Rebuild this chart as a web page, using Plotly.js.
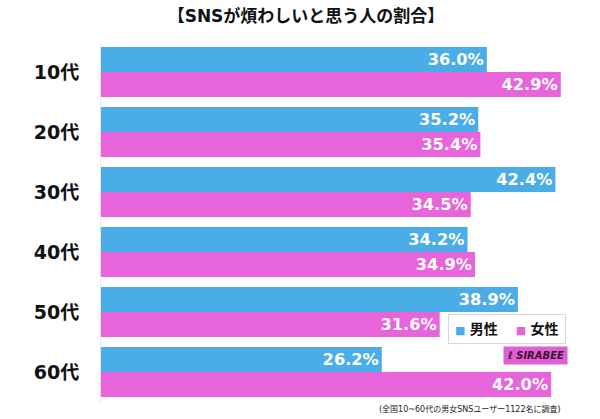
<!DOCTYPE html>
<html>
<head>
<meta charset="utf-8">
<script src="https://cdn.plot.ly/plotly-3.0.1.min.js"></script>
<style>body{margin:0;background:#fff;} #chart{width:600px;height:419px;}</style>
</head>
<body>
<div id="chart"></div>
<script>
const categories = ["10代", "20代", "30代", "40代", "50代", "60代"];
const maleValues = [36.0, 35.2, 42.4, 34.2, 38.9, 26.2];
const femaleValues = [42.9, 35.4, 34.5, 34.9, 31.6, 42.0];
const seriesNames = ["男性", "女性"];
const titleText = "【SNSが煩わしいと思う人の割合】";
const footerText = "(全国10~60代の男女SNSユーザー1122名に調査)";

const FONT = "DejaVu Sans, Noto Sans CJK JP, sans-serif";
const BLUE = "#4aade8";
const PINK = "#e764da";
const colors = [BLUE, PINK];

function makeTrace(vals, name, color) {
  return {
    type: "bar",
    orientation: "h",
    y: categories,
    x: vals,
    name: name,
    marker: {color: color},
    text: vals.map(v => v.toFixed(1) + "%"),
    textposition: "inside",
    insidetextanchor: "end",
    textfont: {family: FONT, size: 18, color: "#ffffff", weight: "bold"},
    hoverinfo: "skip"
  };
}

const data = [
  makeTrace(maleValues, seriesNames[0], BLUE),
  makeTrace(femaleValues, seriesNames[1], PINK)
];

const legendText = seriesNames.map((n, i) =>
  "<span style='color:" + colors[i] + ";font-size:11px'>■</span> <b>" + n + "</b>").join("    ");

const layout = {
  width: 600,
  height: 419,
  margin: {l: 101, r: 6, t: 42, b: 17},
  paper_bgcolor: "#ffffff",
  plot_bgcolor: "#ffffff",
  barmode: "group",
  bargap: 0.17,
  bargroupgap: 0,
  showlegend: false,
  title: {
    text: "<b>" + titleText + "</b>",
    font: {family: FONT, size: 17, color: "#111"},
    x: 0.51, xref: "container", xanchor: "center",
    y: 0.962, yref: "container", yanchor: "middle"
  },
  xaxis: {
    range: [0, 46],
    showgrid: false, zeroline: false, showticklabels: false, showline: false, ticks: ""
  },
  yaxis: {
    autorange: "reversed",
    showgrid: false, zeroline: false,
    showline: true, linecolor: "#e6e6e6", linewidth: 1,
    ticks: "",
    ticklabelstandoff: 17,
    tickfont: {family: FONT, size: 19, color: "#111", weight: "bold"}
  },
  annotations: [
    {
      text: legendText,
      xref: "x", yref: "paper",
      x: 37.9, y: 0.203, xanchor: "center", yanchor: "middle",
      showarrow: false,
      bgcolor: "#ffffff",
      bordercolor: "#d8d8d8",
      borderwidth: 1,
      borderpad: 6,
      font: {family: FONT, size: 14, color: "#111"}
    },
    {
      text: footerText,
      xref: "x", yref: "paper",
      x: 43.1, y: -0.019, xanchor: "right", yanchor: "middle",
      showarrow: false,
      font: {family: FONT, size: 8, color: "#222"}
    },
    {
      text: "<b><i>ℓ SIRABEE</i></b>",
      xref: "x", yref: "paper",
      x: 40.5, y: 0.128, xanchor: "center", yanchor: "middle",
      showarrow: false,
      bgcolor: "#e05fd2",
      borderpad: 3,
      font: {family: FONT, size: 10, color: "#3a1030"}
    }
  ]
};

Plotly.newPlot("chart", data, layout, {displayModeBar: false, staticPlot: true});
</script>
</body>
</html>
